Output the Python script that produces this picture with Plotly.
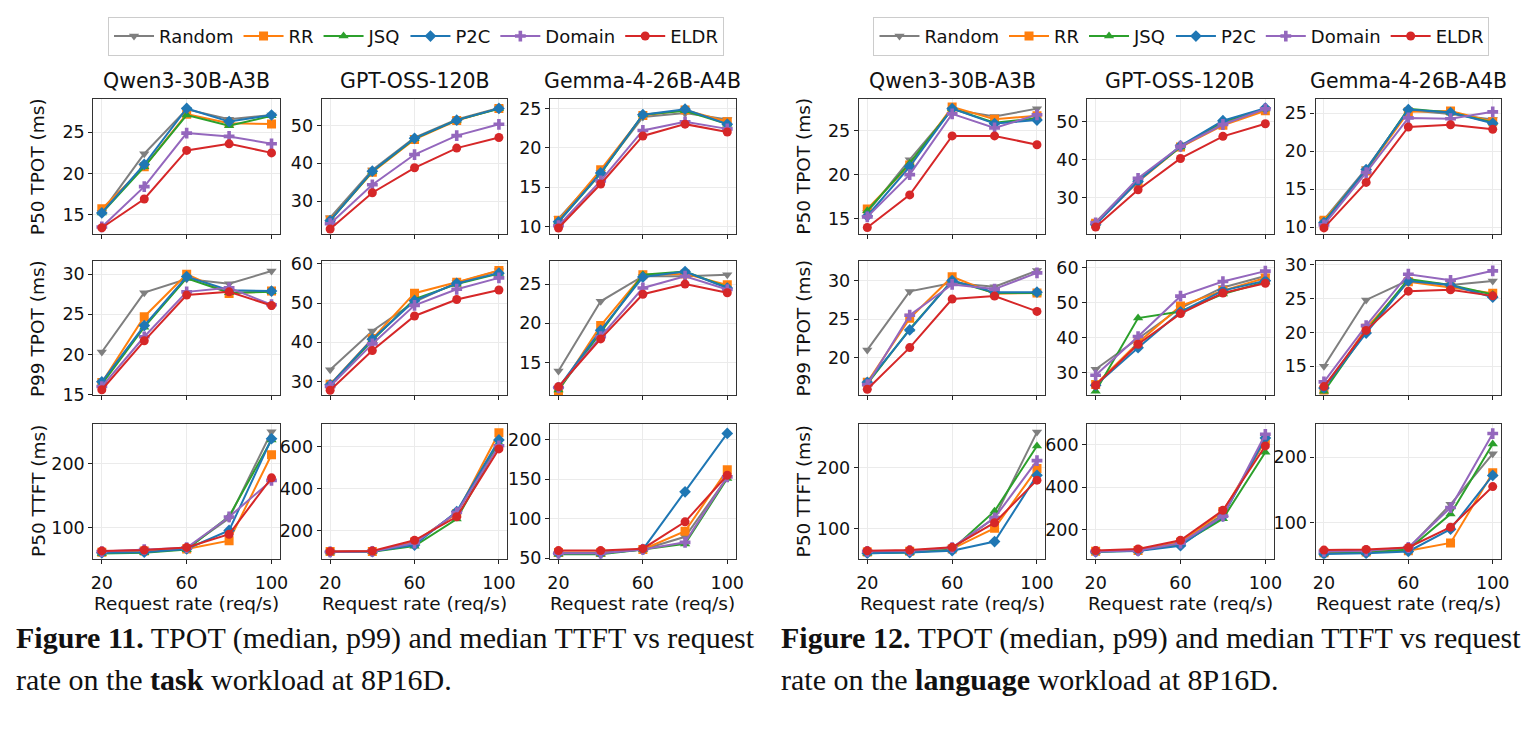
import plotly.graph_objects as go

# ---------------- data ----------------
X = [20, 40, 60, 80, 100]
X_TICKS = [20, 60, 100]
METHODS = ["Random", "RR", "JSQ", "P2C", "Domain", "ELDR"]
MODELS = ["Qwen3-30B-A3B", "GPT-OSS-120B", "Gemma-4-26B-A4B"]
METRICS = ["P50 TPOT (ms)", "P99 TPOT (ms)", "P50 TTFT (ms)"]
X_LABEL = "Request rate (req/s)"

# Figure 11: task workload
task_p50tpot_qwen = {"Random": [15.3, 22.4, 27.8, 26.6, 27.1], "RR": [15.7, 20.8, 27.2, 26.1, 26.0],
                     "JSQ": [15.2, 20.8, 27.1, 25.8, 27.0], "P2C": [15.2, 21.1, 27.9, 26.3, 27.1],
                     "Domain": [13.5, 18.4, 24.9, 24.5, 23.6], "ELDR": [13.4, 16.9, 22.8, 23.6, 22.5]}
task_p50tpot_gpt = {"Random": [25.6, 38.2, 46.8, 51.6, 54.6], "RR": [25.0, 37.6, 46.3, 51.3, 54.5],
                    "JSQ": [24.8, 37.8, 46.5, 51.4, 54.4], "P2C": [24.8, 37.9, 46.6, 51.4, 54.5],
                    "Domain": [24.0, 34.3, 42.3, 47.3, 50.3], "ELDR": [22.6, 32.2, 38.8, 44.0, 46.8]}
task_p50tpot_gemma = {"Random": [11.0, 16.9, 23.9, 24.4, 23.6], "RR": [10.8, 17.2, 24.1, 24.8, 23.3],
                      "JSQ": [10.6, 16.7, 24.2, 24.7, 23.0], "P2C": [10.6, 16.8, 24.2, 24.9, 23.0],
                      "Domain": [10.1, 15.8, 22.2, 23.3, 22.4], "ELDR": [9.8, 15.4, 21.5, 23.0, 22.0]}
task_p99tpot_qwen = {"Random": [20.3, 27.7, 29.4, 28.8, 30.4], "RR": [16.5, 24.7, 30.0, 27.6, 27.9],
                     "JSQ": [16.3, 23.4, 29.5, 27.7, 27.8], "P2C": [16.6, 23.6, 29.7, 28.0, 27.9],
                     "Domain": [16.0, 22.2, 27.8, 28.3, 26.2], "ELDR": [15.6, 21.7, 27.4, 27.8, 26.1]}
task_p99tpot_gpt = {"Random": [33.0, 42.9, 50.3, 55.2, 58.2], "RR": [29.3, 41.0, 52.5, 55.3, 58.3],
                    "JSQ": [29.0, 40.5, 51.0, 54.8, 57.5], "P2C": [29.2, 40.8, 50.6, 55.0, 57.6],
                    "Domain": [28.8, 39.6, 49.4, 53.5, 56.4], "ELDR": [27.8, 37.9, 46.7, 50.9, 53.3]}
task_p99tpot_gemma = {"Random": [13.9, 22.8, 26.0, 26.0, 26.2], "RR": [11.4, 19.7, 26.2, 26.3, 24.9],
                      "JSQ": [11.5, 18.8, 26.2, 26.6, 24.6], "P2C": [11.8, 19.1, 25.9, 26.6, 24.5],
                      "Domain": [11.8, 18.3, 24.5, 26.0, 24.3], "ELDR": [11.9, 18.0, 23.7, 25.0, 23.9]}
task_p50ttft_qwen = {"Random": [61, 62, 68, 115, 250], "RR": [62, 64, 67, 80, 214],
                     "JSQ": [60, 61, 66, 118, 237], "P2C": [61, 62, 67, 96, 239],
                     "Domain": [63, 66, 69, 117, 174], "ELDR": [64, 65.5, 69.5, 90, 178]}
task_p50ttft_gpt = {"Random": [98, 100, 140, 285, 620], "RR": [99, 100, 145, 280, 665],
                    "JSQ": [97, 98, 125, 254, 615], "P2C": [97, 99, 130, 290, 631],
                    "Domain": [98, 100, 140, 285, 603], "ELDR": [100, 102, 153, 265, 588]}
task_p50ttft_gemma = {"Random": [56, 56, 61, 77, 152], "RR": [57, 57, 61, 84, 162],
                      "JSQ": [55, 55, 61, 68, 151], "P2C": [56, 56, 61, 134, 208],
                      "Domain": [56, 56, 61, 70, 153], "ELDR": [59.5, 59.5, 62, 96, 155]}

# Figure 12: language workload
lang_p50tpot_qwen = {"Random": [15.7, 21.7, 27.4, 26.6, 27.5], "RR": [16.1, 21.1, 27.7, 26.3, 26.7],
                     "JSQ": [15.9, 21.3, 27.5, 25.9, 26.4], "P2C": [15.3, 20.9, 27.5, 25.8, 26.2],
                     "Domain": [15.2, 20.0, 26.9, 25.3, 26.8], "ELDR": [14.0, 17.7, 24.4, 24.4, 23.4]}
lang_p50tpot_gpt = {"Random": [23.6, 34.8, 43.3, 49.5, 53.2], "RR": [23.3, 34.2, 43.3, 49.0, 52.8],
                    "JSQ": [23.2, 34.5, 43.3, 50.0, 53.3], "P2C": [23.0, 34.3, 43.6, 50.2, 53.5],
                    "Domain": [23.4, 35.1, 43.5, 49.2, 53.3], "ELDR": [22.3, 32.1, 40.3, 46.1, 49.4]}
lang_p50tpot_gemma = {"Random": [11.0, 17.7, 25.4, 24.9, 24.2], "RR": [10.9, 17.4, 25.2, 25.3, 23.9],
                      "JSQ": [10.7, 17.5, 25.6, 25.1, 23.8], "P2C": [10.6, 17.6, 25.5, 25.1, 23.7],
                      "Domain": [10.3, 17.2, 24.4, 24.3, 25.2], "ELDR": [9.9, 15.9, 23.2, 23.5, 22.9]}
lang_p99tpot_qwen = {"Random": [21.0, 28.6, 29.7, 29.2, 31.3], "RR": [16.8, 25.1, 30.5, 28.3, 28.4],
                     "JSQ": [16.6, 23.7, 30.0, 28.4, 28.4], "P2C": [16.8, 23.6, 30.0, 28.5, 28.5],
                     "Domain": [16.5, 25.5, 29.5, 28.9, 31.0], "ELDR": [15.9, 21.3, 27.6, 28.0, 26.0]}
lang_p99tpot_gpt = {"Random": [30.9, 39.8, 48.5, 54.4, 57.7], "RR": [26.5, 38.5, 49.1, 53.5, 57.1],
                    "JSQ": [24.6, 45.6, 47.5, 52.5, 56.0], "P2C": [26.3, 37.1, 47.4, 53.5, 56.3],
                    "Domain": [29.2, 40.3, 51.9, 56.1, 59.1], "ELDR": [26.3, 38.1, 46.9, 52.8, 55.6]}
lang_p99tpot_gemma = {"Random": [15.0, 24.8, 27.7, 27.0, 27.6], "RR": [11.5, 20.6, 27.5, 26.7, 25.8],
                      "JSQ": [11.3, 20.2, 27.9, 27.0, 25.6], "P2C": [11.8, 19.9, 27.6, 27.0, 25.2],
                      "Domain": [12.7, 21.0, 28.6, 27.7, 29.1], "ELDR": [12.0, 20.3, 26.1, 26.3, 25.4]}
lang_p50ttft_qwen = {"Random": [61, 62, 68, 118, 259], "RR": [62, 63, 67, 101, 199],
                     "JSQ": [60, 61, 66, 129, 236], "P2C": [60, 61, 64, 79, 188],
                     "Domain": [63, 64, 69, 118, 212], "ELDR": [64, 65, 69.5, 110, 180]}
lang_p50ttft_gpt = {"Random": [96, 100, 140, 270, 625], "RR": [97, 101, 140, 285, 620],
                    "JSQ": [95, 99, 130, 251, 565], "P2C": [94, 98, 123, 263, 633],
                    "Domain": [96, 100, 135, 263, 650], "ELDR": [100, 108, 149, 291, 595]}
lang_p50ttft_gemma = {"Random": [55, 56, 60, 128, 205], "RR": [54, 55, 57, 69, 176],
                      "JSQ": [53, 54, 59, 113, 220], "P2C": [52, 53, 56, 90, 172],
                      "Domain": [56, 57, 62, 123, 236], "ELDR": [58, 59, 62, 93, 155]}

# y tick values per panel (row-major)
task_yticks = [[15, 20, 25], [30, 40, 50], [10, 15, 20, 25],
               [15, 20, 25, 30], [30, 40, 50, 60], [15, 20, 25],
               [100, 200], [200, 400, 600], [50, 100, 150, 200]]
lang_yticks = [[15, 20, 25], [30, 40, 50], [10, 15, 20, 25],
               [20, 25, 30], [30, 40, 50, 60], [15, 20, 25, 30],
               [100, 200], [200, 400, 600], [100, 200]]

CAPTIONS = [
    ("<b>Figure 11.</b> TPOT (median, p99) and median TTFT vs request",
     "rate on the <b>task</b> workload at 8P16D."),
    ("<b>Figure 12.</b> TPOT (median, p99) and median TTFT vs request",
     "rate on the <b>language</b> workload at 8P16D."),
]

# ---------------- style ----------------
W, H = 1533, 736
COLORS = {"Random": "#7f7f7f", "RR": "#ff7f0e", "JSQ": "#2ca02c",
          "P2C": "#1f77b4", "Domain": "#9467bd", "ELDR": "#d62728"}
SYMBOLS = {"Random": "triangle-down", "RR": "square", "JSQ": "triangle-up",
           "P2C": "diamond", "Domain": "cross", "ELDR": "circle"}
FONT = "DejaVu Sans"
TICK_SIZE = 17.5
TITLE_SIZE = 20.5
LABEL_SIZE = 18.5
LEGEND_SIZE = 18
CAPTION_SIZE = 30

task_ranges = [[12.65, 29.05], [21.3, 57.0], [9.05, 26.2],
               [14.9, 31.6], [26.5, 60.6], [10.8, 27.9],
               [51.8, 262.4], [65, 708], [49.2, 220.3]]
lang_ranges = [[13.26, 28.6], [20.5, 55.9], [9.1, 26.9],
               [15.1, 32.5], [23.4, 61.9], [10.7, 30.5],
               [50.8, 272.7], [61.5, 700], [44.8, 251]]

COL_X = [[(91, 279), (321, 508), (551, 738)],
         [(862, 1050), (1092, 1280), (1322, 1509)]]
ROW_Y = [(94, 232), (260, 397), (426, 564)]
YLABEL_X = [35, 806]
LEGEND_CX = [416, 1187]
CAPTION_X = [11, 782]

figures = [
    ([task_p50tpot_qwen, task_p50tpot_gpt, task_p50tpot_gemma,
      task_p99tpot_qwen, task_p99tpot_gpt, task_p99tpot_gemma,
      task_p50ttft_qwen, task_p50ttft_gpt, task_p50ttft_gemma], task_yticks, task_ranges),
    ([lang_p50tpot_qwen, lang_p50tpot_gpt, lang_p50tpot_gemma,
      lang_p99tpot_qwen, lang_p99tpot_gpt, lang_p99tpot_gemma,
      lang_p50ttft_qwen, lang_p50ttft_gpt, lang_p50ttft_gemma], lang_yticks, lang_ranges),
]

fig = go.Figure()
layout = {}
annotations = []
ax = 0
for f, (panels, yticks, yranges) in enumerate(figures):
    legend_name = "legend" if f == 0 else "legend2"
    for i, pdata in enumerate(panels):
        r, c = divmod(i, 3)
        ax += 1
        xs = "" if ax == 1 else str(ax)
        x0, x1 = COL_X[f][c]
        y0, y1 = ROW_Y[r]
        for m in METHODS:
            fig.add_trace(go.Scatter(
                x=X, y=pdata[m], name=m, mode="lines+markers",
                line=dict(color=COLORS[m], width=2),
                marker=dict(symbol=SYMBOLS[m], size=9, color=COLORS[m],
                            line=dict(width=0)),
                xaxis="x" + xs, yaxis="y" + xs,
                legend=legend_name, showlegend=(i == 0),
            ))
        common = dict(
            ticks="outside", ticklen=4, tickwidth=1, tickcolor="#222",
            showline=True, mirror=True, linecolor="#333", linewidth=1.2,
            showgrid=True, gridcolor="#ebebeb", gridwidth=1, zeroline=False,
            tickfont=dict(size=TICK_SIZE, color="#111", family=FONT),
        )
        layout["xaxis" + xs] = dict(
            domain=[x0 / W, x1 / W], anchor="y" + xs, range=[16, 104],
            tickvals=X_TICKS, showticklabels=(r == 2), ticklabelstandoff=4, **common)
        layout["yaxis" + xs] = dict(
            domain=[1 - y1 / H, 1 - y0 / H], anchor="x" + xs, range=yranges[i],
            tickvals=yticks[i], **common)
        if r == 0:
            annotations.append(dict(text=MODELS[c], x=(x0 + x1) / 2 / W, y=1 - 76 / H,
                                    xref="paper", yref="paper", showarrow=False,
                                    xanchor="center", yanchor="middle",
                                    font=dict(size=TITLE_SIZE, color="#111", family=FONT)))
        if r == 2:
            annotations.append(dict(text=X_LABEL, x=(x0 + x1) / 2 / W, y=1 - 610 / H,
                                    xref="paper", yref="paper", showarrow=False,
                                    xanchor="center", yanchor="middle",
                                    font=dict(size=LABEL_SIZE, color="#111", family=FONT)))
        if c == 0:
            annotations.append(dict(text=METRICS[r], x=YLABEL_X[f] / W, y=1 - (y0 + y1) / 2 / H,
                                    xref="paper", yref="paper", showarrow=False, textangle=-90,
                                    xanchor="center", yanchor="middle",
                                    font=dict(size=LABEL_SIZE, color="#111", family=FONT)))
    layout[legend_name] = dict(
        orientation="h", x=LEGEND_CX[f] / W, xanchor="center", y=1 - 30 / H, yanchor="middle",
        bordercolor="#cccccc", borderwidth=1, bgcolor="white",
        font=dict(size=LEGEND_SIZE, color="#111", family=FONT), itemwidth=40,
    )
    l1, l2 = CAPTIONS[f]
    annotations.append(dict(text=l1, x=CAPTION_X[f] / W, y=1 - 645 / H, xref="paper", yref="paper",
                            showarrow=False, xanchor="left", yanchor="middle",
                            font=dict(size=CAPTION_SIZE, color="#111", family="Liberation Serif")))
    annotations.append(dict(text=l2, x=CAPTION_X[f] / W, y=1 - 687 / H, xref="paper", yref="paper",
                            showarrow=False, xanchor="left", yanchor="middle",
                            font=dict(size=CAPTION_SIZE, color="#111", family="Liberation Serif")))

fig.update_layout(
    width=W, height=H, margin=dict(l=0, r=0, t=0, b=0),
    paper_bgcolor="white", plot_bgcolor="white",
    font=dict(family=FONT, color="#111"),
    annotations=annotations, **layout,
)
fig.write_html("out.html")
